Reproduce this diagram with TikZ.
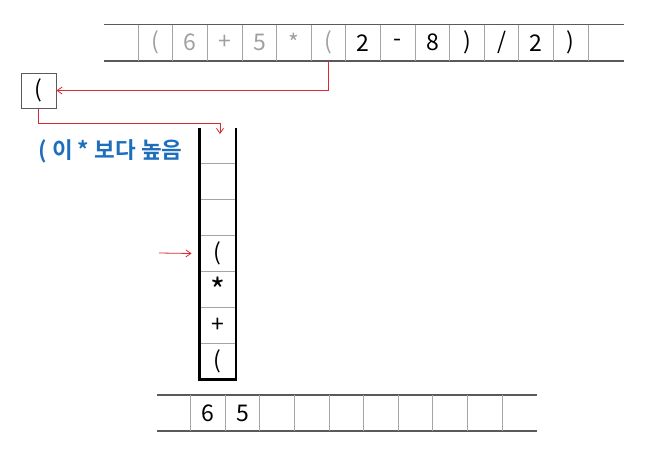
\documentclass[tikz,border=0pt]{standalone}
\usepackage{fontspec}
\setmainfont{Noto Sans CJK KR}[BoldFont={Noto Sans CJK KR Bold}]
\usepackage{xcolor}
\usepackage{tikz}
\usetikzlibrary{positioning,arrows.meta}
\definecolor{rowgray}{RGB}{90,90,90}
\definecolor{sepgray}{RGB}{165,165,165}
\definecolor{tokgray}{RGB}{160,160,160}
\definecolor{ptrred}{RGB}{220,40,50}
\definecolor{notblue}{RGB}{30,110,190}

\begin{document}
\begin{tikzpicture}[x=1pt, y=-1pt,
    rowline/.style={draw=rowgray, line width=1.6pt},
    sepline/.style={draw=sepgray, line width=0.9pt},
    cell/.style={minimum width=34.6pt, minimum height=36.5pt, inner sep=0pt, font=\fontsize{23}{23}\selectfont},
    stackwall/.style={draw=black, line width=2.6pt},
    redarrow/.style={draw=ptrred, line width=0.8pt, -{Straight Barb[length=5pt, width=7pt]}}]
    \useasboundingbox (0,0) rectangle (646,453);

    % Input expression
    \draw[rowline] (104,24.5) -- (624,24.5);
    \draw[rowline] (104,61) -- (624,61);
    \foreach \i in {0,...,13}
        \draw[sepline] (138.3+34.6*\i,24.5) -- ++(0,36.5);
    \foreach \t [count=\i] in {{(},6,+,5,*,{(}}
        \node[cell, text=tokgray] (expr-\i) at (121+34.6*\i,42.75) {\t};
    \foreach \t [count=\i from 7] in {2,-,8,{)},/,2,{)}}
        \node[cell] (expr-\i) at (121+34.6*\i,42.75) {\t};

    % Current token
    \node[cell, draw=rowgray, line width=1pt, minimum width=35pt, minimum height=35pt] (tok) at (38.5,90.5) {(};
    \draw[redarrow] (expr-6.south) |- (tok.east);

    % Stack
    \draw[stackwall] (199.5,128) -- (199.5,379.5) -- (236,379.5) -- (236,128);
    \foreach \k in {1,...,6}
        \draw[sepline] (200.8,379.5-36*\k) -- (234.7,379.5-36*\k);
    \foreach \t [count=\i] in {{(},+,{\fontsize{32}{32}\selectfont\raisebox{-5pt}{*}},{(}}
        \node[cell, minimum width=34pt, minimum height=36pt] (stk-\i) at (217.75,361.5-36*\i+36) {\t};
    \coordinate (stktop) at (220,134);
    \draw[redarrow] (tok.south) -- ++(0,15) -| (stktop);
    \node[font=\fontsize{22.5}{22.5}\selectfont\bfseries, text=notblue] (note) at (110.5,151) {( 이 * 보다 높음};

    % Top pointer
    \coordinate (ptr) at (159,253);
    \draw[redarrow] (ptr) -- ([xshift=-9pt]stk-4.west);

    % Output
    \draw[rowline] (157,395) -- (537,395);
    \draw[rowline] (157,431) -- (537,431);
    \foreach \i in {0,...,9}
        \draw[sepline] (190.7+34.6*\i,395) -- ++(0,36);
    \foreach \t [count=\i] in {6,5}
        \node[cell] (out-\i) at (173.4+34.6*\i,413) {\t};
\end{tikzpicture}
\end{document}
